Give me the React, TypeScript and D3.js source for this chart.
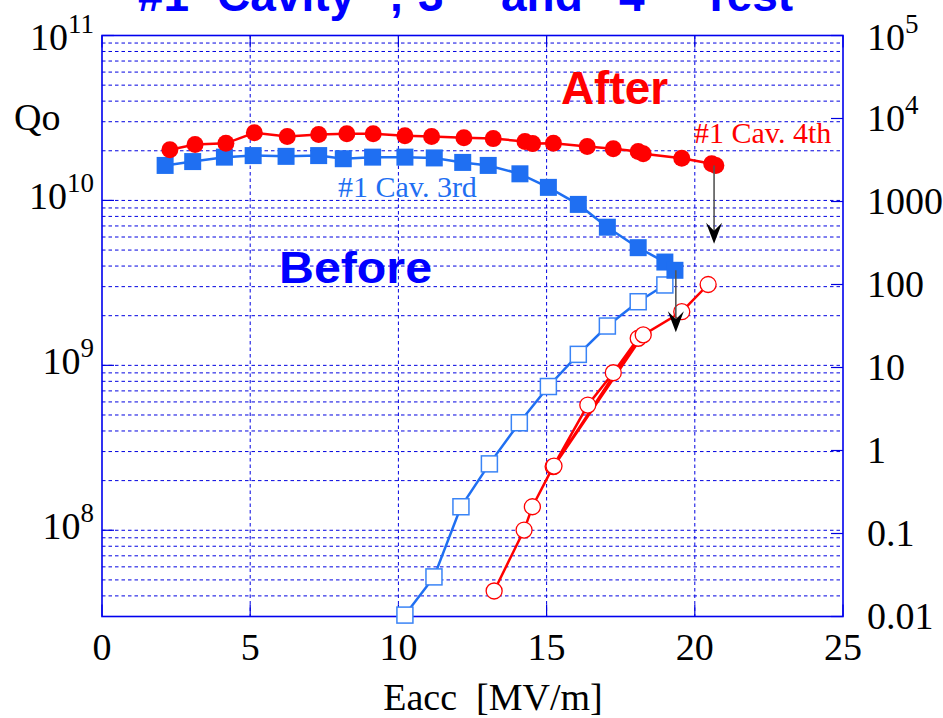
import React from "react";
import * as d3 from "d3";

// Qo before treatment (#1 Cav. 3rd test)
const eaccBeforeQ = [2.13, 3.06, 4.13, 5.1, 6.21, 7.31, 8.14, 9.13, 10.22, 11.21, 12.17, 13.03, 14.1, 15.06, 16.07, 17.05, 18.09, 18.99, 19.33];
const qBefore = [1.63e10, 1.72e10, 1.83e10, 1.87e10, 1.85e10, 1.87e10, 1.79e10, 1.83e10, 1.83e10, 1.81e10, 1.7e10, 1.63e10, 1.45e10, 1.2e10, 9.46e9, 6.88e9, 5.17e9, 4.23e9, 3.77e9];

// Qo after treatment (#1 Cav. 4th test)
const eaccAfterQ = [2.29, 3.14, 4.18, 5.14, 6.25, 7.31, 8.26, 9.15, 10.22, 11.12, 12.21, 13.2, 14.27, 14.53, 15.23, 16.37, 17.25, 18.09, 18.26, 19.56, 20.57, 20.71];
const qAfter = [2.03e10, 2.18e10, 2.22e10, 2.57e10, 2.44e10, 2.51e10, 2.54e10, 2.54e10, 2.47e10, 2.44e10, 2.4e10, 2.37e10, 2.28e10, 2.21e10, 2.22e10, 2.12e10, 2.06e10, 1.98e10, 1.92e10, 1.8e10, 1.67e10, 1.63e10];

// X-ray level (right axis), before
const eaccBeforeX = [10.22, 11.2, 12.11, 13.07, 14.08, 15.06, 16.07, 17.05, 18.09, 18.99];
const xrayBefore = [0.0104, 0.03, 0.21, 0.69, 2.16, 5.9, 14.4, 31.6, 62, 98.7];

// X-ray level (right axis), after
const eaccAfterX = [13.23, 14.24, 14.52, 15.22, 16.39, 17.25, 18.09, 15.25, 18.26, 19.56, 20.45];
const xrayAfter = [0.0203, 0.11, 0.21, 0.64, 3.53, 8.65, 22.5, 0.65, 24.7, 47, 100];

// Quench arrows
const quenchEacc = [20.65, 19.36];
const quenchFromQ = [1.63e10, 3.77e9];
const quenchToQ = [5.47e9, 1.59e9];

const xTicks = [0, 5, 10, 15, 20, 25];
const leftTicks = [1e8, 1e9, 1e10, 1e11];
const leftTickExp = ["8", "9", "10", "11"];
const rightTicks = [0.01, 0.1, 1, 10, 100, 1000, 1e4, 1e5];
const rightTickText = ["0.01", "0.1", "1", "10", "100", "1000", "10", "10"];
const rightTickSup = ["", "", "", "", "", "", "4", "5"];

const W = 943;
const H = 718;
const L = 102;
const R = 843;
const T = 35.5;
const B = 616.5;

const BLUE_GRID = "#0000e0";
const BLUE_MARK = "#1f6ff2";
const BLUE_OPEN = "#3a84f6";
const RED = "#ff0000";
const SERIF = "'Liberation Serif', 'Times New Roman', serif";
const SANS = "'Liberation Sans', Arial, sans-serif";

export default function App() {
  const x = d3.scaleLinear().domain([0, 25]).range([L, R]);
  const yL = d3.scaleLog().domain([3e7, 1e11]).range([B, T]);
  const yR = d3.scaleLog().domain([0.01, 1e5]).range([B, T]);

  // grid values for the left axis (1..9 per decade)
  const gridVals: number[] = [];
  for (let e = 7; e <= 10; e++) {
    for (let m = 1; m <= 9; m++) {
      const v = m * Math.pow(10, e);
      if (v > 3e7 && v < 1e11) gridVals.push(v);
    }
  }

  const beforeQ = eaccBeforeQ.map((e, i) => [e, qBefore[i]] as [number, number]);
  const afterQ = eaccAfterQ.map((e, i) => [e, qAfter[i]] as [number, number]);
  const beforeX = eaccBeforeX.map((e, i) => [e, xrayBefore[i]] as [number, number]);
  const afterX = eaccAfterX.map((e, i) => [e, xrayAfter[i]] as [number, number]);

  const lineL = d3.line<[number, number]>().x((d) => x(d[0])).y((d) => yL(d[1]));
  const lineR = d3.line<[number, number]>().x((d) => x(d[0])).y((d) => yR(d[1]));

  const sq = 17;
  const osq = 16;

  return (
    <svg
      width={W}
      height={H}
      style={{ position: "absolute", left: 0, top: 0, background: "#fff" }}
    >
      {/* title */}
      <g fontFamily={SANS} fontWeight="bold" fontSize={46} fill="#0000ff">
        <text x={138} y={11}>#1</text>
        <text x={217} y={11}>Cavity</text>
        <text x={390} y={11}>,</text>
        <text x={418} y={11}>3<tspan dy={-18} fontSize={28}>rd</tspan></text>
        <text x={501} y={11}>and</text>
        <text x={619} y={11}>4<tspan dy={-18} fontSize={28}>th</tspan></text>
        <text x={702} y={11}>Test</text>
      </g>

      {/* dashed grid */}
      <g stroke={BLUE_GRID} strokeWidth={1} strokeDasharray="3.5,3">
        {gridVals.map((v, i) => (
          <line key={i} x1={L} x2={R} y1={yL(v)} y2={yL(v)} />
        ))}
        {xTicks.slice(1, -1).map((t) => (
          <line key={"v" + t} x1={x(t)} x2={x(t)} y1={T} y2={B} />
        ))}
      </g>

      {/* ticks */}
      <g stroke={BLUE_GRID} strokeWidth={1.2}>
        {leftTicks.map((t) => (
          <line key={"l" + t} x1={L} x2={L + 12} y1={yL(t)} y2={yL(t)} />
        ))}
        {rightTicks.map((t) => (
          <line key={"r" + t} x1={R - 12} x2={R} y1={yR(t)} y2={yR(t)} />
        ))}
        {xTicks.map((t) => (
          <g key={"x" + t}>
            <line x1={x(t)} x2={x(t)} y1={B} y2={B - 12} />
            <line x1={x(t)} x2={x(t)} y1={T} y2={T + 12} />
          </g>
        ))}
      </g>

      {/* frame */}
      <rect x={L} y={T} width={R - L} height={B - T} fill="none" stroke="#0000ee" strokeWidth={1.6} />

      {/* x-ray lines and markers */}
      <path d={lineR(beforeX) || ""} fill="none" stroke={BLUE_MARK} strokeWidth={2.5} />
      {beforeX.map((d, i) => (
        <rect
          key={"bx" + i}
          x={x(d[0]) - osq / 2}
          y={yR(d[1]) - osq / 2}
          width={osq}
          height={osq}
          fill="#fff"
          stroke={BLUE_OPEN}
          strokeWidth={1.5}
        />
      ))}
      <path d={lineR(afterX) || ""} fill="none" stroke={RED} strokeWidth={2.5} />
      {afterX.map((d, i) => (
        <circle key={"ax" + i} cx={x(d[0])} cy={yR(d[1])} r={8} fill="#fff" stroke={RED} strokeWidth={1.3} />
      ))}

      {/* Qo lines and markers */}
      <path d={lineL(beforeQ) || ""} fill="none" stroke={BLUE_MARK} strokeWidth={2.5} />
      {beforeQ.map((d, i) => (
        <rect
          key={"bq" + i}
          x={x(d[0]) - sq / 2}
          y={yL(d[1]) - sq / 2}
          width={sq}
          height={sq}
          fill={BLUE_MARK}
        />
      ))}
      <path d={lineL(afterQ) || ""} fill="none" stroke={RED} strokeWidth={2.5} />
      {afterQ.map((d, i) => (
        <circle key={"aq" + i} cx={x(d[0])} cy={yL(d[1])} r={8.5} fill={RED} />
      ))}

      {/* quench arrows */}
      {quenchEacc.map((e, i) => {
        const ax = x(e);
        const y0 = yL(quenchFromQ[i]);
        const y1 = yL(quenchToQ[i]);
        return (
          <g key={"q" + i}>
            <line x1={ax} x2={ax} y1={y0} y2={y1 - 8} stroke="#555" strokeWidth={1.6} />
            <path
              d={`M${ax},${y1} L${ax - 8},${y1 - 21} L${ax},${y1 - 13} L${ax + 8},${y1 - 21} Z`}
              fill="#000"
            />
          </g>
        );
      })}

      {/* annotations */}
      <text x={279} y={283} fontFamily={SANS} fontWeight="bold" fontSize={44} fill="#0000ff" textLength={153} lengthAdjust="spacingAndGlyphs">Before</text>
      <text x={561} y={104} fontFamily={SANS} fontWeight="bold" fontSize={46} fill={RED} textLength={107} lengthAdjust="spacingAndGlyphs">After</text>
      <text x={338} y={197} fontFamily={SERIF} fontSize={30} fill={BLUE_MARK}>#1 Cav. 3rd</text>
      <text x={694} y={143} fontFamily={SERIF} fontSize={30} fill={RED}>#1 Cav. 4th</text>

      {/* axis labels */}
      <g fontFamily={SERIF} fontSize={38} fill="#000">
        {xTicks.map((t) => (
          <text key={"xt" + t} x={x(t)} y={660} textAnchor="middle">{t}</text>
        ))}
        {leftTicks.map((t, i) => (
          <text key={"lt" + t} x={94} y={t === 1e11 ? 50 : yL(t) + 9} textAnchor="end">
            10<tspan dy={-17} fontSize={27}>{leftTickExp[i]}</tspan>
          </text>
        ))}
        {rightTicks.map((t, i) => (
          <text key={"rt" + t} x={867} y={t === 1e5 ? 50 : yR(t) + 12}>
            {rightTickText[i]}
            {rightTickSup[i] ? <tspan dy={-17} fontSize={27}>{rightTickSup[i]}</tspan> : null}
          </text>
        ))}
        <text x={14} y={130}>Qo</text>
        <text x={493} y={710} textAnchor="middle" style={{ whiteSpace: "pre" }}>{"Eacc  [MV/m]"}</text>
      </g>
    </svg>
  );
}
